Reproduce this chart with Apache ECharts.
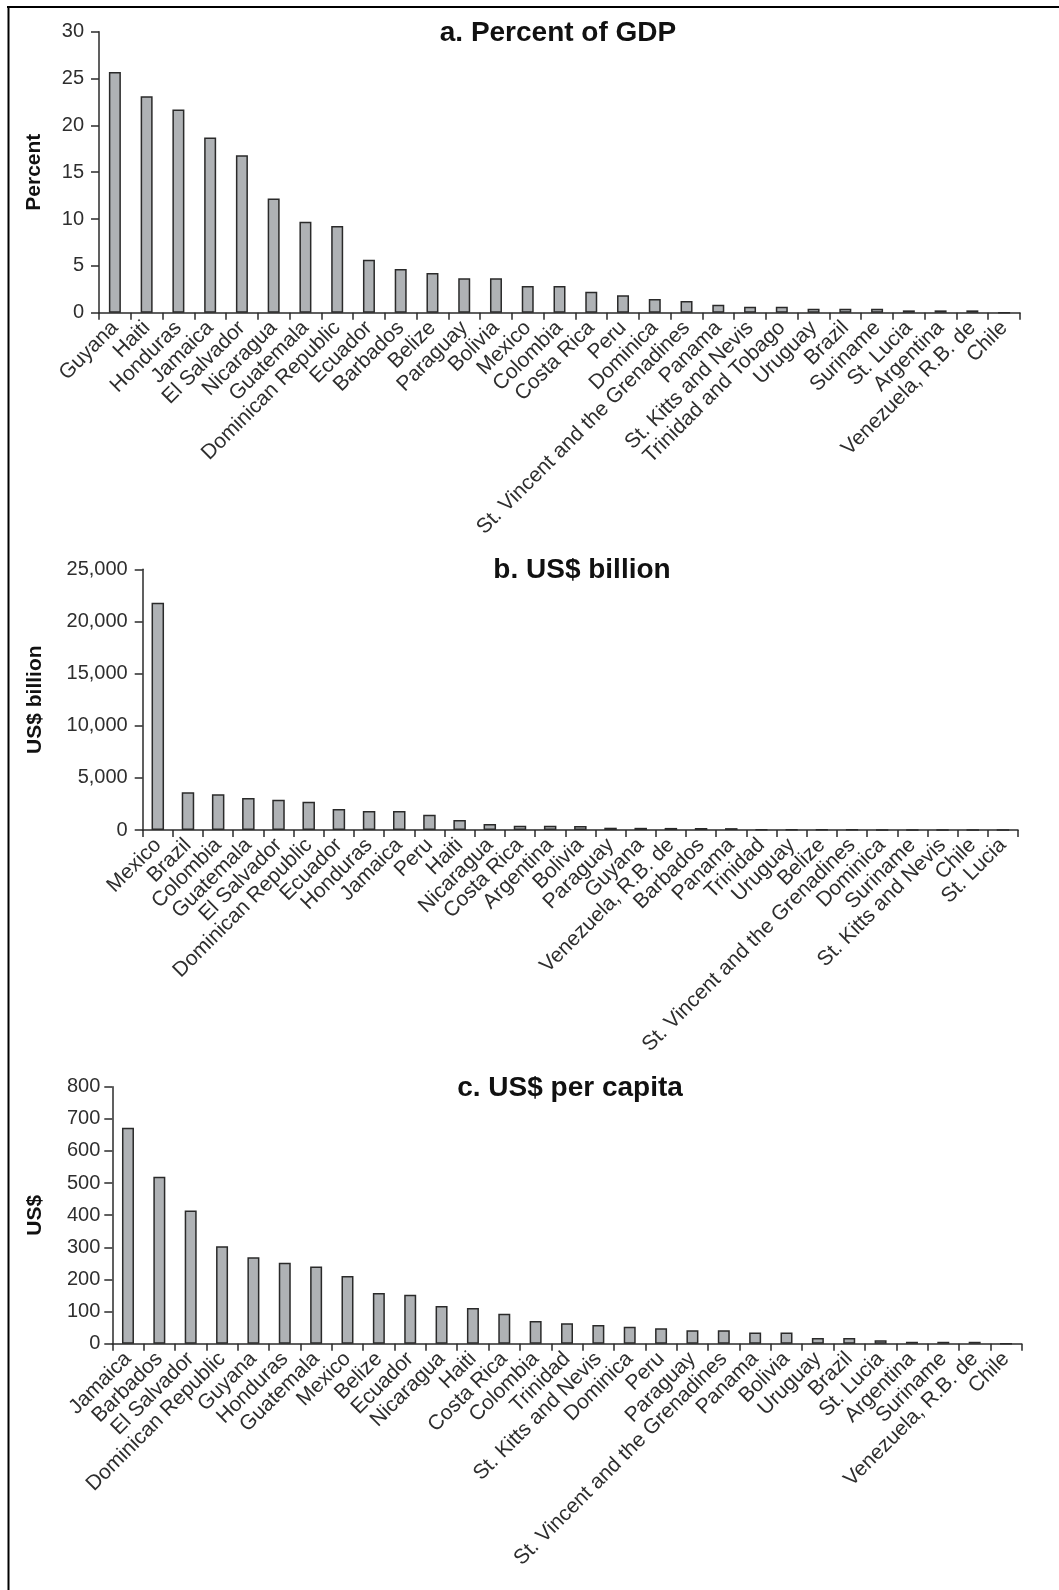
<!DOCTYPE html>
<html>
<head>
<meta charset="utf-8">
<script src="https://cdn.jsdelivr.net/npm/echarts@6/dist/echarts.min.js"></script>
<style>
  html, body { margin: 0; padding: 0; background: #fff; }
  #chart { width: 1059px; height: 1590px; }
</style>
</head>
<body>
<div id="chart"></div>
<script>
// a. Remittances as percent of GDP
const countriesPctGdp = ['Guyana', 'Haiti', 'Honduras', 'Jamaica', 'El Salvador', 'Nicaragua', 'Guatemala',
  'Dominican Republic', 'Ecuador', 'Barbados', 'Belize', 'Paraguay', 'Bolivia', 'Mexico', 'Colombia',
  'Costa Rica', 'Peru', 'Dominica', 'St. Vincent and the Grenadines', 'Panama', 'St. Kitts and Nevis',
  'Trinidad and Tobago', 'Uruguay', 'Brazil', 'Suriname', 'St. Lucia', 'Argentina', 'Venezuela, R.B. de', 'Chile'];
const valuesPctGdp = [25.7, 23.1, 21.7, 18.7, 16.8, 12.2, 9.7, 9.25, 5.66, 4.66, 4.24, 3.67, 3.67, 2.85, 2.85,
  2.24, 1.86, 1.46, 1.25, 0.85, 0.64, 0.64, 0.43, 0.43, 0.43, 0.25, 0.25, 0.25, 0];

// b. Remittances in US$ billion
const countriesBillion = ['Mexico', 'Brazil', 'Colombia', 'Guatemala', 'El Salvador', 'Dominican Republic',
  'Ecuador', 'Honduras', 'Jamaica', 'Peru', 'Haiti', 'Nicaragua', 'Costa Rica', 'Argentina', 'Bolivia',
  'Paraguay', 'Guyana', 'Venezuela, R.B. de', 'Barbados', 'Panama', 'Trinidad', 'Uruguay', 'Belize',
  'St. Vincent and the Grenadines', 'Dominica', 'Suriname', 'St. Kitts and Nevis', 'Chile', 'St. Lucia'];
const valuesBillion = [21800, 3610, 3420, 3070, 2910, 2720, 2010, 1820, 1820, 1470, 960, 580, 410, 400, 390,
  220, 210, 200, 190, 180, 40, 35, 30, 25, 20, 15, 15, 5, 5];

// c. Remittances in US$ per capita
const countriesPerCapita = ['Jamaica', 'Barbados', 'El Salvador', 'Dominican Republic', 'Guyana', 'Honduras',
  'Guatemala', 'Mexico', 'Belize', 'Ecuador', 'Nicaragua', 'Haiti', 'Costa Rica', 'Colombia', 'Trinidad',
  'St. Kitts and Nevis', 'Dominica', 'Peru', 'Paraguay', 'St. Vincent and the Grenadines', 'Panama', 'Bolivia',
  'Uruguay', 'Brazil', 'St. Lucia', 'Argentina', 'Suriname', 'Venezuela, R.B. de', 'Chile'];
const valuesPerCapita = [672, 520, 415, 303, 269, 252, 240, 211, 158, 152, 117, 111, 93, 71, 64, 58, 53, 48,
  42, 42, 35, 35, 18, 18, 11, 6, 6, 6, 0];

// Panel titles, y-axis names and scales
const panelTitles = ['a. Percent of GDP', 'b. US$ billion', 'c. US$ per capita'];
const axisNames = ['Percent', 'US$ billion', 'US$'];
const axisMax = [30, 25000, 800];
const axisStep = [5, 5000, 100];

const FONT = '"Liberation Sans", Arial, Helvetica, sans-serif';
const INK = '#2b2b2b';

const grids = [
  { left: 99, top: 31.7, width: 921, height: 281 },
  { left: 142.7, top: 569.3, width: 875.3, height: 260.7 },
  { left: 112.3, top: 1086.7, width: 909.4, height: 257 }
];
const titlePos = [
  { x: 558, y: 19 },
  { x: 582, y: 556 },
  { x: 570, y: 1074 }
];
const nameGaps = [54, 97, 67];
const labelMargins = [15, 15, 12];
const categorySets = [countriesPctGdp, countriesBillion, countriesPerCapita];
const valueSets = [valuesPctGdp, valuesBillion, valuesPerCapita];
const barWidths = [12, 12.5, 12];

const fmtThousands = v => String(v).replace(/\B(?=(\d{3})+(?!\d))/g, ',');

const option = {
  backgroundColor: '#fff',
  animation: false,
  textStyle: { fontFamily: FONT },
  title: panelTitles.map((t, i) => ({
    text: t,
    left: titlePos[i].x,
    top: titlePos[i].y,
    textAlign: 'center',
    padding: 0,
    textStyle: { fontFamily: FONT, fontSize: 28, fontWeight: 'bold', color: '#111' }
  })),
  grid: grids.map(g => Object.assign({ containLabel: false, outerBoundsMode: 'none' }, g)),
  xAxis: categorySets.map((cats, i) => ({
    type: 'category',
    gridIndex: i,
    data: cats,
    boundaryGap: true,
    axisLine: { lineStyle: { color: INK, width: 1.5 } },
    axisTick: { show: true, inside: false, length: 7, alignWithLabel: false, lineStyle: { color: INK, width: 1.5 } },
    axisLabel: {
      interval: 0,
      rotate: 45,
      margin: 12,
      fontSize: 21,
      color: '#2e2e2e',
      fontFamily: FONT
    },
    splitLine: { show: false }
  })),
  yAxis: axisNames.map((name, i) => ({
    type: 'value',
    gridIndex: i,
    min: 0,
    max: axisMax[i],
    interval: axisStep[i],
    name: name,
    nameLocation: 'middle',
    nameRotate: 90,
    nameGap: nameGaps[i],
    nameTextStyle: { fontFamily: FONT, fontSize: 21, fontWeight: 'bold', color: '#111' },
    axisLine: { show: true, lineStyle: { color: INK, width: 1.5 } },
    axisTick: { show: true, inside: false, length: 8, lineStyle: { color: INK, width: 1.5 } },
    axisLabel: {
      margin: labelMargins[i],
      fontSize: 20,
      color: '#2e2e2e',
      fontFamily: FONT,
      formatter: v => fmtThousands(v)
    },
    splitLine: { show: false }
  })),
  series: valueSets.map((vals, i) => ({
    type: 'bar',
    xAxisIndex: i,
    yAxisIndex: i,
    data: vals,
    barWidth: barWidths[i],
    itemStyle: { color: '#afb2b5', borderColor: '#2a2a2a', borderWidth: 1.5 },
    silent: true
  })),
  graphic: [
    { type: 'rect', shape: { x: 7, y: 6, width: 1052, height: 2 }, style: { fill: '#000' } },
    { type: 'rect', shape: { x: 7.5, y: 6, width: 2, height: 1584 }, style: { fill: '#000' } }
  ]
};

const chart = echarts.init(document.getElementById('chart'), null, { renderer: 'canvas' });
chart.setOption(option);
</script>
</body>
</html>
